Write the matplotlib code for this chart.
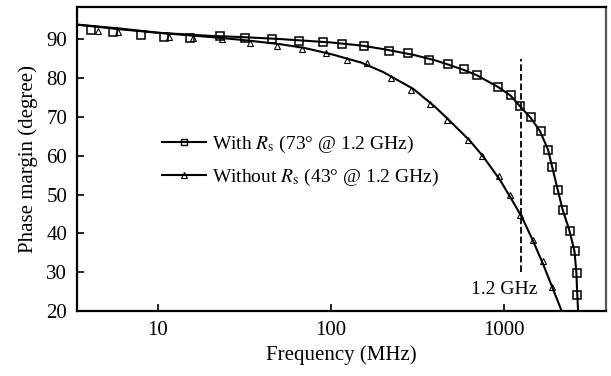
import numpy as np
import matplotlib.pyplot as plt
from matplotlib.lines import Line2D

plt.rcParams['font.family'] = ['Liberation Serif', 'DejaVu Serif']
plt.rcParams['mathtext.fontset'] = 'stix'

# markers (frequency in MHz, phase margin in degree)
sq_f = [4.1, 5.5, 8.0, 10.9, 15.3, 22.9, 32, 45.5, 65.5, 89.5, 116, 156, 216, 280,
        369, 476, 588, 701, 927, 1093, 1237, 1426, 1637, 1800, 1900, 2043, 2183,
        2405, 2580, 2631, 2654]
sq_d = [92.5, 92.0, 91.0, 90.6, 90.4, 90.8, 90.4, 90.0, 89.7, 89.4, 88.9, 88.4, 86.9,
        86.6, 84.8, 83.6, 82.3, 80.8, 77.8, 75.7, 72.8, 69.9, 66.5, 61.5, 57.0, 51.2,
        46.0, 40.7, 35.4, 29.8, 24.0]

tr_f = [4.5, 5.9, 11.5, 16, 23.4, 34, 48.5, 67.7, 93.5, 123, 161, 221, 292, 373,
        471, 621, 752, 940, 1081, 1231, 1476, 1688, 1889]
tr_d = [92.2, 91.8, 90.7, 90.3, 90.0, 89.0, 88.3, 87.4, 86.4, 84.8, 83.8, 80.1, 77.0,
        73.4, 69.3, 64.1, 60.0, 54.9, 49.8, 44.7, 38.3, 32.9, 26.3]

# solid fitted curves
sq_line_f = [3.4, 6, 10, 20, 30, 50, 100, 150, 200, 300, 400, 476, 588, 701, 927,
             1093, 1237, 1426, 1614, 1800, 1900, 2043, 2183, 2390, 2560, 2625, 2655,
             2686]
sq_line_d = [93.8, 92.6, 91.7, 90.9, 90.6, 90.1, 89.2, 88.4, 87.5, 86.0, 84.6, 83.5,
             82.1, 80.7, 77.7, 75.5, 72.8, 69.8, 66.4, 61.6, 57.2, 51.4, 46.2, 40.8,
             35.4, 29.8, 24.5, 20.0]
tr_line_f = [3.4, 6, 10, 20, 30, 50, 70, 100, 150, 200, 300, 400, 476, 635, 759, 948,
             1100, 1277, 1476, 1688, 1889, 2158]
tr_line_d = [93.8, 92.8, 91.7, 90.6, 89.9, 88.8, 87.8, 86.2, 84.0, 81.6, 77.2, 72.6,
             69.4, 63.9, 59.8, 53.8, 49.0, 44.0, 38.0, 32.0, 26.5, 20.0]

labels = ['With $R_{\\mathrm{s}}$ (73° @ 1.2 GHz)',
          'Without $R_{\\mathrm{s}}$ (43° @ 1.2 GHz)']

fig = plt.figure(figsize=(6.11, 3.76), dpi=100)
ax = fig.add_axes([0.126, 0.173, 0.866, 0.808])

ax.plot(sq_line_f, sq_line_d, color='black', lw=1.5)
ax.plot(tr_line_f, tr_line_d, color='black', lw=1.5)
ax.plot(sq_f, sq_d, ls='none', marker='s', ms=6.2, mfc='none', mec='black', mew=1.1)
ax.plot(tr_f, tr_d, ls='none', marker='^', ms=5, mfc='none', mec='black', mew=0.8)

ax.plot([1250, 1250], [30, 85], color='black', ls='--', lw=1.3)
ax.text(1560, 25.5, '1.2 GHz', ha='right', va='center', fontsize=14)

ax.set_xscale('log')
ax.set_xlim(3.4, 3900)
ax.set_ylim(20, 98.3)
ax.set_xticks([10, 100, 1000])
ax.set_xticklabels(['10', '100', '1000'])
ax.set_yticks([20, 30, 40, 50, 60, 70, 80, 90])
ax.minorticks_off()
ax.tick_params(direction='in', length=5, width=1.2, labelsize=15, pad=7)
for s in ax.spines.values():
    s.set_linewidth(1.6)
ax.spines['right'].set_color('#555555')

ax.set_xlabel('Frequency (MHz)', fontsize=15, labelpad=4)
ax.set_ylabel('Phase margin (degree)', fontsize=15, labelpad=6)

handles = [Line2D([], [], color='black', lw=1.5, marker='s', ms=4.5, mfc='none', mew=1.0),
           Line2D([], [], color='black', lw=1.5, marker='^', ms=4, mfc='none', mew=0.8)]
ax.legend(handles, labels, loc='upper left', bbox_to_anchor=(0.16, 0.583),
          frameon=False, fontsize=14, handlelength=2.3, handletextpad=0.3,
          labelspacing=0.62, borderpad=0, borderaxespad=0)

fig.savefig('out.png', dpi=100)
